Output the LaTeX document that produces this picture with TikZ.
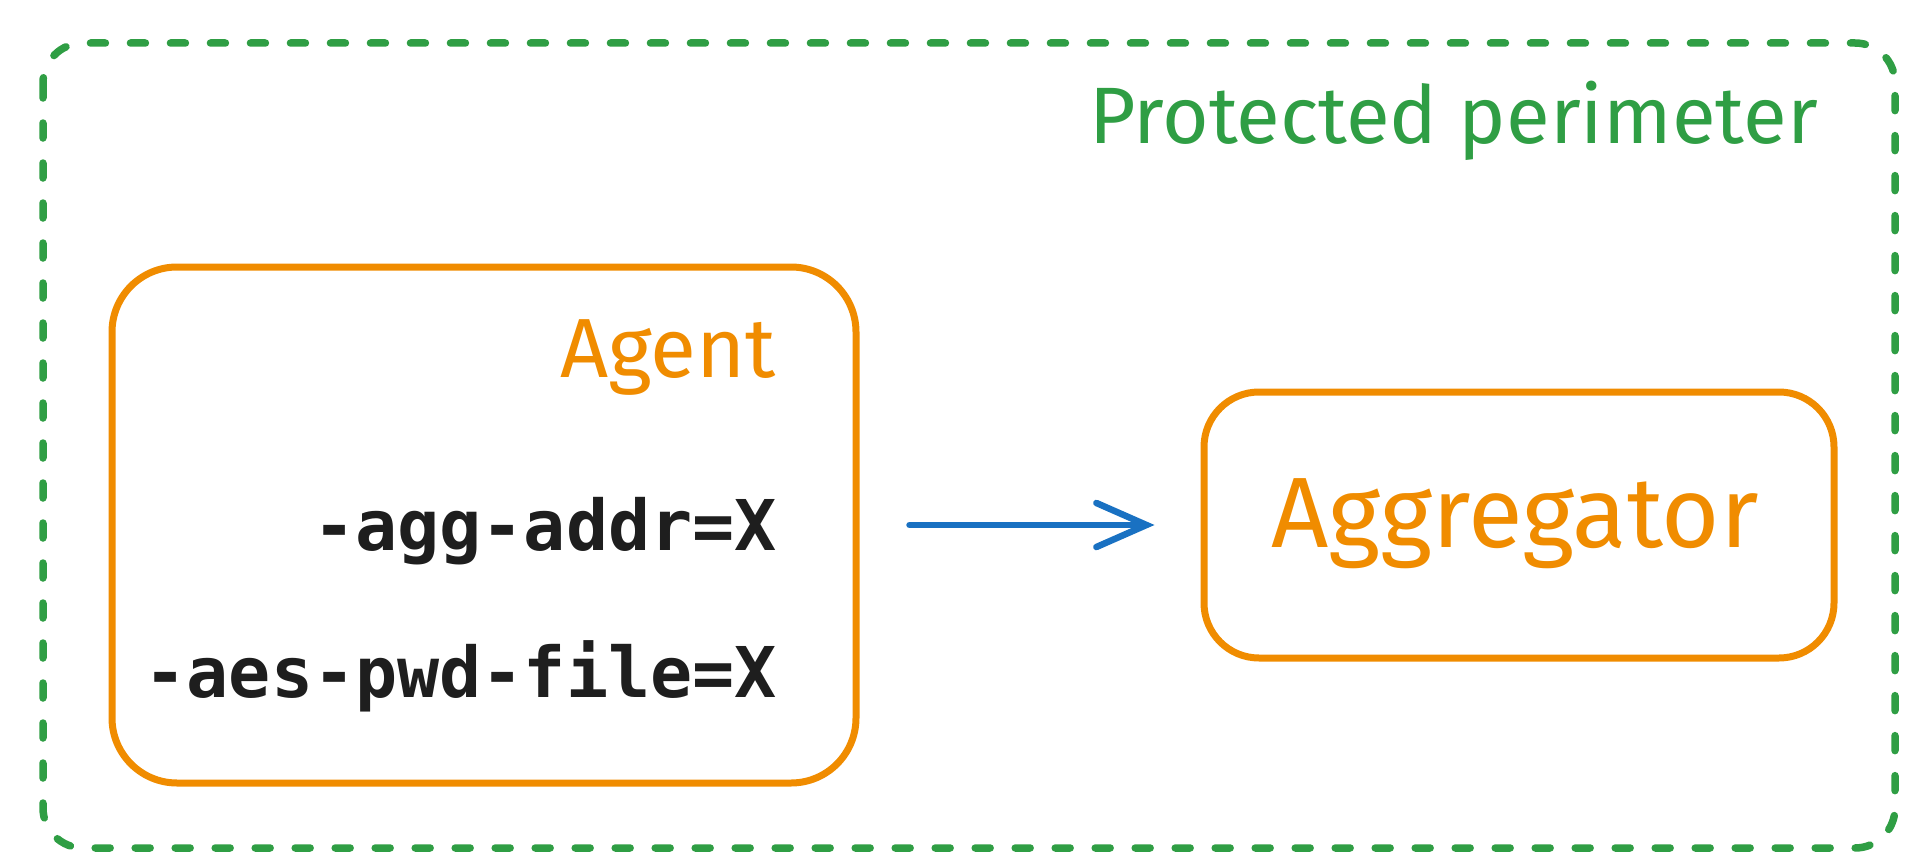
\documentclass[tikz,border=0pt]{standalone}
\usepackage{fontspec}
\setmainfont{Fira Sans}
\newfontfamily\codefont{DejaVu Sans Mono}
\usetikzlibrary{arrows.meta}
\definecolor{exorange}{HTML}{F08C00}
\definecolor{exgreen}{HTML}{2F9E44}
\definecolor{exblue}{HTML}{1971C2}
\definecolor{exink}{HTML}{1E1E1E}
\tikzset{
  boxshape/.style={draw=exorange, line width=7pt, rounded corners=55pt, inner sep=0pt},
  perim/.style={draw=exgreen, line width=7.5pt, line cap=round, dash pattern=on 15pt off 25pt, rounded corners=40pt},
  handtext/.style={text=exorange, inner sep=0pt},
  codetext/.style={text=exink, inner sep=0pt, font=\codefont\bfseries\fontsize{70}{84}\selectfont},
  flow/.style={draw=exblue, line width=6.5pt, line cap=round, -{Straight Barb[length=50pt,width=44pt,line cap=round]}},
}
\begin{document}
\begin{tikzpicture}[x=1pt,y=-1pt]
\useasboundingbox (0,0) rectangle (1915,867);
% protected perimeter
\draw[perim] (43,43) rectangle (1895,848);
\node[text=exgreen, inner sep=0pt, anchor=base east, font=\fontsize{80}{96}\selectfont] (perimlabel) at (1818,143) {Protected perimeter};
% agent box
\node[boxshape, rounded corners=65pt, minimum width=744pt, minimum height=516pt] (agent) at (484,525) {};
\node[handtext, anchor=base east, font=\fontsize{84}{100}\selectfont] (agentlabel) at (776,377) {Agent};
\node[codetext, anchor=base east] (aggaddr) at (777,550) {-agg-addr=X};
\node[codetext, anchor=base east] (aespwd) at (777,697) {-aes-pwd-file=X};
% aggregator box
\node[boxshape, minimum width=630pt, minimum height=266pt] (agg) at (1519,525) {};
\node[handtext, anchor=base, font=\fontsize{100}{120}\selectfont] (agglabel) at (1515,547) {Aggregator};
% arrow
\draw[flow, shorten <=50pt, shorten >=46pt] (agent.east) -- (agg.west);
\end{tikzpicture}
\end{document}
